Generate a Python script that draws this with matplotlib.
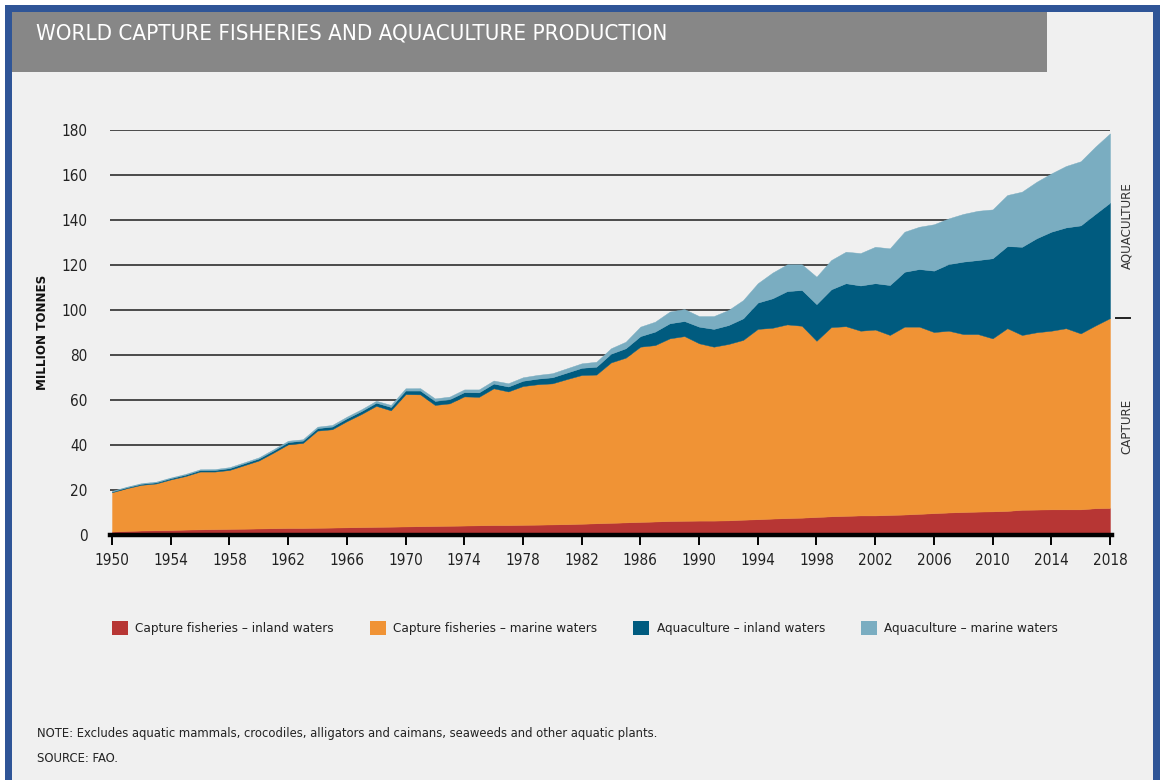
import matplotlib
matplotlib.use("Agg")
import matplotlib.pyplot as plt
from matplotlib import font_manager
from matplotlib.font_manager import FontProperties
from matplotlib.patches import Rectangle, Patch

# ---------------- data (million tonnes) ----------------
years = list(range(1950, 2019))

capture_inland = [
    1.5, 1.8, 2.0, 2.1, 2.2, 2.4, 2.5, 2.6, 2.7, 2.8,
    2.9, 3.0, 3.1, 3.1, 3.2, 3.3, 3.4, 3.5, 3.6, 3.7,
    3.8, 3.9, 4.0, 4.1, 4.2, 4.3, 4.4, 4.4, 4.5, 4.6,
    4.7, 4.8, 5.0, 5.2, 5.4, 5.6, 5.8, 6.0, 6.2, 6.3,
    6.4, 6.4, 6.5, 6.8, 7.0, 7.3, 7.5, 7.7, 8.0, 8.3,
    8.5, 8.7, 8.7, 8.9, 9.1, 9.4, 9.7, 10.0, 10.2, 10.4,
    10.5, 10.7, 11.2, 11.3, 11.4, 11.4, 11.4, 11.9, 12.0]

capture_marine = [
    17.5, 19.0, 20.3, 20.8, 22.5, 23.8, 25.7, 25.6, 26.2, 28.2,
    30.2, 33.6, 37.2, 37.8, 43.2, 43.7, 47.2, 50.3, 53.8, 51.7,
    58.8, 58.6, 53.8, 54.4, 57.4, 57.1, 60.8, 59.4, 61.7, 62.4,
    62.7, 64.5, 66.1, 66.1, 71.3, 73.2, 77.9, 78.4, 81.2, 82.1,
    78.8, 77.3, 78.4, 79.9, 84.6, 84.8, 86.1, 85.3, 78.3, 84.1,
    84.3, 82.1, 82.6, 80.0, 83.5, 83.2, 80.5, 80.8, 79.1, 78.9,
    76.9, 81.2, 77.7, 78.8, 79.4, 80.5, 78.2, 81.2, 84.4]

aqua_inland = [
    0.35, 0.4, 0.45, 0.5, 0.55, 0.6, 0.65, 0.7, 0.8, 0.85,
    0.9, 0.95, 1.0, 1.05, 1.1, 1.2, 1.25, 1.3, 1.4, 1.5,
    1.6, 1.7, 1.8, 1.85, 1.9, 2.0, 2.1, 2.2, 2.35, 2.5,
    2.7, 2.9, 3.2, 3.5, 3.9, 4.2, 4.7, 6.0, 6.7, 6.7,
    7.4, 7.9, 8.4, 9.6, 11.7, 13.1, 14.8, 15.9, 16.3, 16.8,
    19.1, 20.1, 20.6, 22.2, 24.4, 25.6, 27.3, 29.6, 32.2, 32.9,
    35.6, 36.5, 39.2, 41.8, 44.0, 44.8, 48.0, 49.6, 51.3]

aqua_marine = [
    0.25, 0.25, 0.3, 0.3, 0.3, 0.35, 0.35, 0.4, 0.45, 0.45,
    0.5, 0.55, 0.6, 0.6, 0.65, 0.7, 0.75, 0.8, 0.85, 0.9,
    1.0, 1.05, 1.1, 1.15, 1.2, 1.3, 1.35, 1.45, 1.55, 1.65,
    1.8, 1.9, 2.0, 2.2, 2.4, 2.9, 4.2, 4.4, 5.2, 5.3,
    4.7, 5.7, 6.7, 8.1, 8.6, 11.4, 11.9, 11.4, 12.2, 13.0,
    14.0, 14.4, 16.2, 16.3, 17.8, 18.8, 20.6, 20.3, 21.2, 21.9,
    21.7, 22.7, 24.5, 25.1, 25.9, 27.3, 28.5, 29.9, 30.8]

series_labels = ["Capture fisheries \u2013 inland waters",
                 "Capture fisheries \u2013 marine waters",
                 "Aquaculture \u2013 inland waters",
                 "Aquaculture \u2013 marine waters"]
series_colors = ["#b73634", "#f09335", "#005b7f", "#7aadc1"]

xticks = list(range(1950, 2019, 4))
yticks = list(range(0, 181, 20))

# ---------------- fonts ----------------
names = {f.name for f in font_manager.fontManager.ttflist}
if "Liberation Sans Narrow" in names:
    NARROW = ["Liberation Sans Narrow", "DejaVu Sans"]
    STRETCH = "normal"
else:
    NARROW = ["DejaVu Sans"]
    STRETCH = "condensed"
plt.rcParams["font.family"] = NARROW
plt.rcParams["font.stretch"] = STRETCH

W, H = 1165, 780
fig = plt.figure(figsize=(W / 100, H / 100), dpi=100, facecolor="white")


def fx(px):
    return px / W


def fy(py):
    return 1 - py / H


def rect(x0, y0, x1, y1, color, z):
    fig.patches.append(Rectangle((fx(x0), fy(y1)), fx(x1) - fx(x0), fy(y0) - fy(y1),
                                 transform=fig.transFigure, facecolor=color,
                                 edgecolor="none", zorder=z))


# background panel with blue frame
rect(5, 5, 1155, 790, "#f0f0f0", -3)
for (x0, y0, x1, y1) in [(5, 5, 12, 790), (5, 5, 1160, 12), (1153, 5, 1160, 790)]:
    rect(x0, y0, x1, y1, "#2f5597", -2)
# title banner
rect(12, 12, 1047, 72, "#878787", -2)
fig.text(fx(36), fy(33), "WORLD CAPTURE FISHERIES AND AQUACULTURE PRODUCTION",
         color="white", fontsize=16, fontstretch=STRETCH, ha="left", va="center",
         zorder=3)

# ---------------- axes ----------------
ax_l, ax_r, ax_t, ax_b = 110, 1110, 130, 535
ax = fig.add_axes([fx(ax_l), fy(ax_b), fx(ax_r) - fx(ax_l), fy(ax_t) - fy(ax_b)])
ax.set_zorder(2)
ax.set_facecolor("none")
px_per_year = (1110 - 112) / (2018 - 1950)
ax.set_xlim(1950 - 2 / px_per_year, 2018)
ax.set_ylim(0, 180)

polys = ax.stackplot(years, capture_inland, capture_marine, aqua_inland, aqua_marine,
                     colors=series_colors, labels=series_labels, zorder=2,
                     linewidth=0.3)
for p, c in zip(polys, series_colors):
    p.set_edgecolor(c)

ax.set_yticks(yticks)
ax.set_xticks(xticks)
ax.yaxis.grid(True, color="#2e2e2e", linewidth=1.2, zorder=1)
ax.set_axisbelow(True)
for s in ax.spines.values():
    s.set_visible(False)
ax.axhline(0, color="black", linewidth=3.2, zorder=4, xmax=1.002, clip_on=False)
ax.tick_params(axis="y", length=0, pad=16, labelsize=11, labelcolor="#222222")
ax.tick_params(axis="x", length=7, width=1.4, color="black", direction="out",
               pad=6, labelsize=11, labelcolor="#222222")
for lab in ax.get_xticklabels() + ax.get_yticklabels():
    lab.set_fontstretch(STRETCH)

fig.text(fx(42), fy(332), "MILLION TONNES", rotation=90, fontsize=9.5,
         fontweight="bold", fontstretch=STRETCH, ha="center", va="center",
         color="#111111")

# right-hand group labels
cap_end = capture_inland[-1] + capture_marine[-1]
tot_end = cap_end + aqua_inland[-1] + aqua_marine[-1]
ytr = ax.get_yaxis_transform()
ax.plot([1.006, 1.020], [cap_end, cap_end], transform=ytr, color="#222222",
        linewidth=1.4, clip_on=False)
ax.text(1.017, (cap_end + tot_end) / 2, "AQUACULTURE", transform=ytr, rotation=90,
        ha="center", va="center", fontsize=9.5, fontstretch=STRETCH, color="#333333")
ax.text(1.017, cap_end / 2, "CAPTURE", transform=ytr, rotation=90,
        ha="center", va="center", fontsize=9.5, fontstretch=STRETCH, color="#333333")

# legend
handles = [Patch(facecolor=c, edgecolor="none") for c in series_colors]
fig.legend(handles, series_labels, ncol=4, loc="center left",
           bbox_to_anchor=(fx(100), fy(628)), frameon=False,
           prop=FontProperties(family=NARROW, stretch=STRETCH, size=9.6),
           handlelength=1.2, handleheight=1.35, handletextpad=0.55,
           columnspacing=2.7, labelcolor="#222222")

# notes
fig.text(fx(37), fy(733),
         "NOTE: Excludes aquatic mammals, crocodiles, alligators and caimans, seaweeds and other aquatic plants.",
         fontsize=9.3, fontstretch=STRETCH, ha="left", va="center", color="#222222")
fig.text(fx(37), fy(758), "SOURCE: FAO.", fontsize=9.3, fontstretch=STRETCH,
         ha="left", va="center", color="#222222")

fig.savefig("out.png", dpi=100, facecolor="white")
